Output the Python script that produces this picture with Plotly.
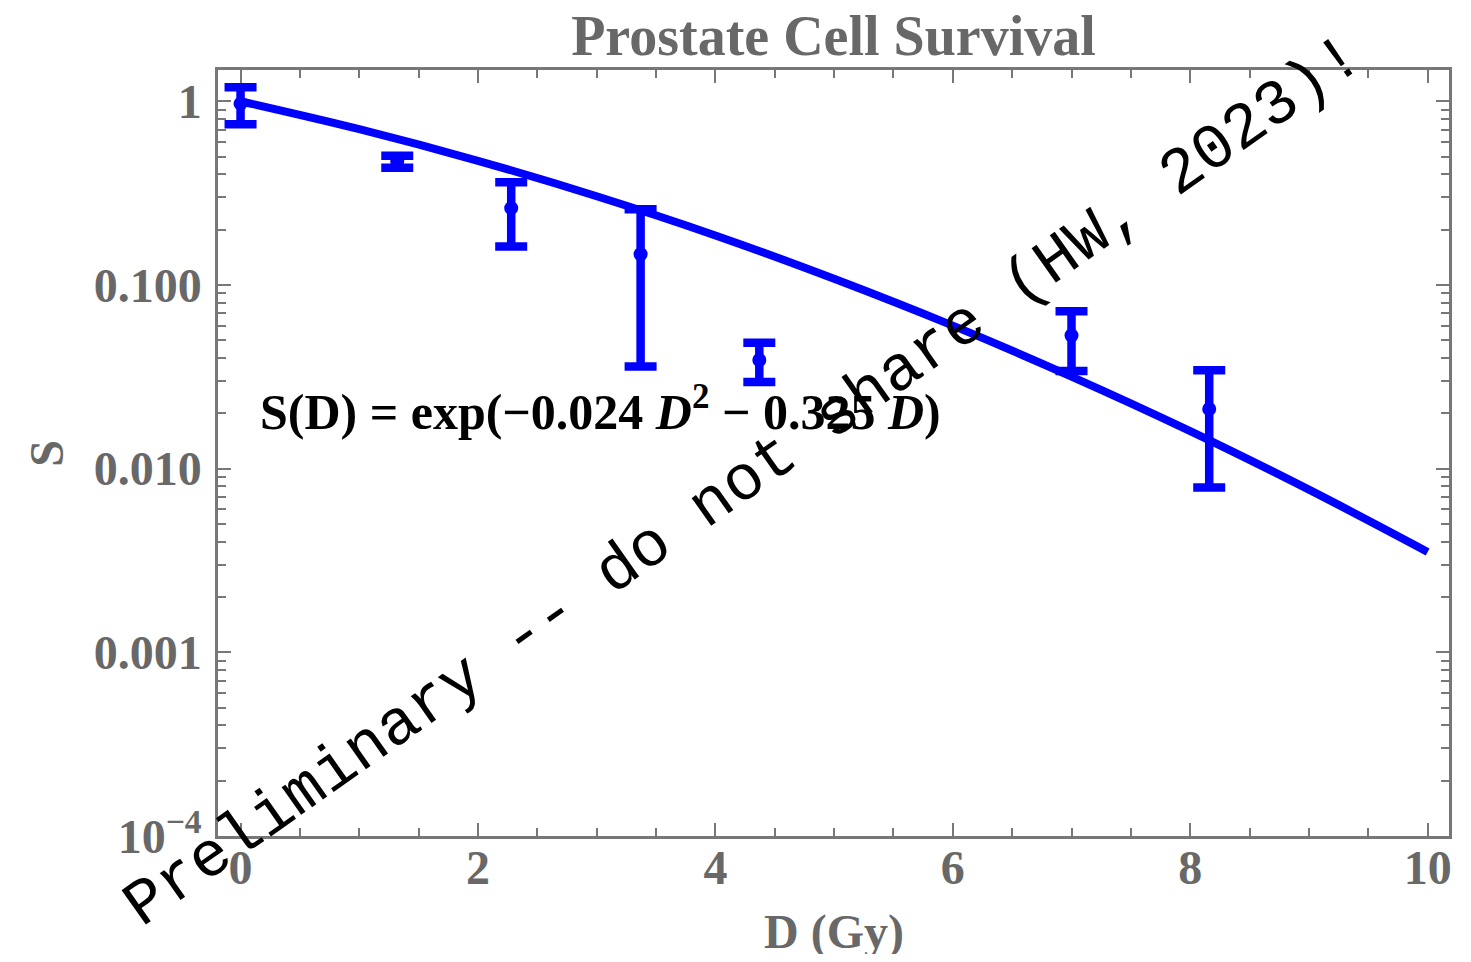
import plotly.graph_objects as go

# data
dose = [0.0, 1.32, 2.28, 3.37, 4.37, 7.0, 8.16]
surv = [0.97, 0.47, 0.262, 0.147, 0.039, 0.053, 0.0211]
surv_err = [0.22, 0.035, 0.10, 0.111, 0.0094, 0.019, 0.0132]

fit_dose = [0, 1, 2, 3, 4, 5, 6, 7, 8, 9, 10]
fit_surv = [1.0, 0.705, 0.474, 0.304, 0.186, 0.108, 0.060, 0.0317, 0.0160, 0.00768, 0.00352]

x_ticks = [0, 2, 4, 6, 8, 10]
y_tickvals = [1e-4, 1e-3, 1e-2, 0.1, 1]
y_ticktext = ["10<sup>−4</sup>", "0.001", "0.010", "0.100", "1"]

BLUE = "#0000FF"
GRAY = "#686868"
FRAME = "#777777"
SERIF = "Liberation Serif, Times New Roman, serif"

fig = go.Figure()
fig.add_trace(go.Scatter(
    x=fit_dose, y=fit_surv, mode="lines", line=dict(color=BLUE, width=8, shape="spline"),
    showlegend=False, hoverinfo="skip"))
fig.add_trace(go.Scatter(
    x=dose, y=surv, mode="markers",
    marker=dict(color=BLUE, size=14),
    error_y=dict(type="data", array=surv_err, color=BLUE, thickness=8.5, width=16),
    showlegend=False))

# page body has an 8px margin: the figure starts at (8, 8)
fig.update_layout(
    width=1455, height=946,
    margin=dict(l=210, r=11, t=62, b=118),
    paper_bgcolor="white", plot_bgcolor="white",
    title=dict(text="<b>Prostate Cell Survival</b>", x=0.5, xref="paper", xanchor="center",
               y=1 - 27 / 946, yref="container", yanchor="middle",
               font=dict(family=SERIF, size=56, color=GRAY)),
    font=dict(family=SERIF, color=GRAY),
)

fig.update_xaxes(
    range=[-0.19, 10.18], tickvals=x_ticks, ticktext=[f"<b>{v}</b>" for v in x_ticks],
    showgrid=False, zeroline=False,
    showline=True, linecolor=FRAME, linewidth=2.5, mirror="allticks",
    ticks="inside", ticklen=13, tickwidth=2, tickcolor=FRAME,
    tickfont=dict(family=SERIF, size=48, color=GRAY), ticklabelstandoff=-12,
    minor=dict(dtick=0.5, ticks="inside", ticklen=8, tickwidth=1.5, tickcolor=FRAME, showgrid=False),
)
fig.update_yaxes(
    type="log", range=[-4, 0.17], tickvals=y_tickvals,
    ticktext=[f"<b>{t}</b>" for t in y_ticktext],
    showgrid=False, zeroline=False,
    showline=True, linecolor=FRAME, linewidth=2.5, mirror="allticks",
    ticks="inside", ticklen=13, tickwidth=2, tickcolor=FRAME,
    tickfont=dict(family=SERIF, size=48, color=GRAY), ticklabelstandoff=4,
    minor=dict(dtick="D1", ticks="inside", ticklen=8, tickwidth=1.5, tickcolor=FRAME, showgrid=False),
)

fig.add_annotation(text="<b>S</b>", xref="paper", yref="paper", x=-0.140, y=0.5,
                   xanchor="center", yanchor="middle",
                   textangle=-90, showarrow=False,
                   font=dict(family=SERIF, size=48, color=GRAY))
fig.add_annotation(text="<b>D (Gy)</b>", xref="paper", yref="paper", x=0.5, y=-0.125,
                   xanchor="center", yanchor="middle", showarrow=False,
                   font=dict(family=SERIF, size=48, color=GRAY))

fig.add_annotation(
    text="<b>S(D) = exp(−0.024 <i>D</i><sup>2</sup> − 0.325 <i>D</i>)</b>",
    x=0.143, y=-1.67, xref="x", yref="y", xanchor="left", yanchor="middle",
    showarrow=False, font=dict(family=SERIF, size=50, color="black"))

fig.add_annotation(
    text="Preliminary -- do not share (HW, 2023)!",
    xref="paper", yref="paper", x=0.427, y=0.462, xanchor="center", yanchor="middle",
    textangle=-35.2,
    showarrow=False, font=dict(family="Liberation Mono, DejaVu Sans Mono, monospace", size=64, color="black"))

fig.write_html("out.html")
